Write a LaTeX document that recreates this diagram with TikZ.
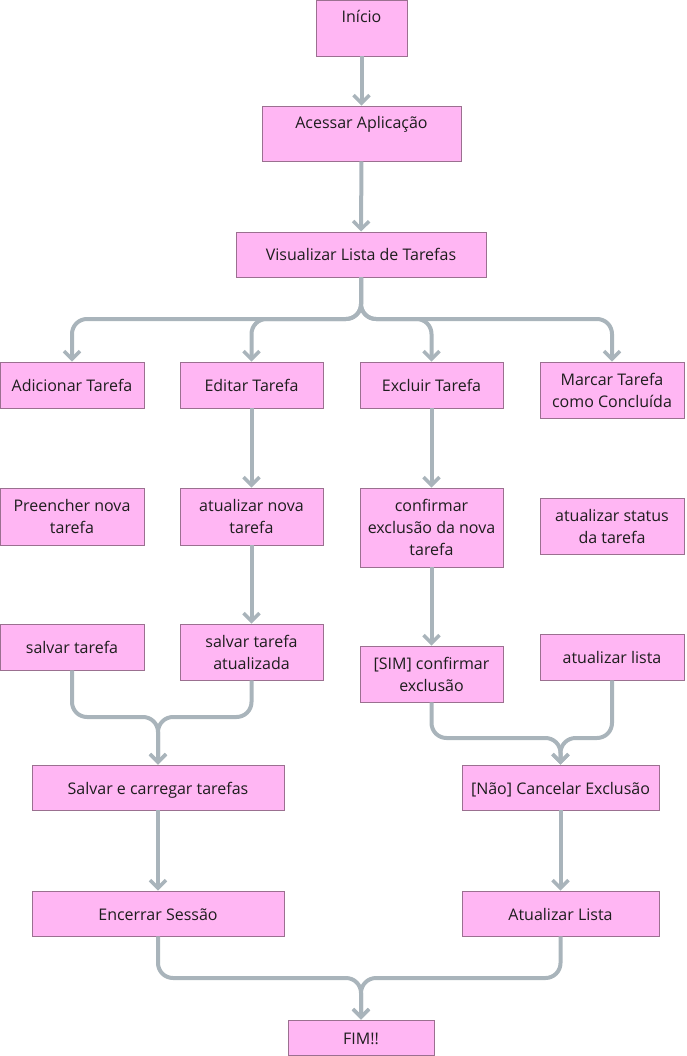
\documentclass[tikz,border=0pt]{standalone}
\usepackage{fontspec}
\setmainfont{Open Sans}
\usetikzlibrary{arrows.meta}
\definecolor{boxfill}{HTML}{FFB6F3}
\definecolor{boxline}{HTML}{9B7090}
\definecolor{arrowc}{HTML}{A9B4BB}
\definecolor{txt}{HTML}{1E1E1E}
\tikzset{
  box/.style={draw=boxline, line width=0.8pt, fill=boxfill, text=txt, align=center,
    inner sep=0pt, font=\fontsize{16pt}{22pt}\selectfont},
  one/.style={text height=13pt, text depth=0pt},
  topline/.style={text height=12pt, text depth=22pt},
  flow/.style={draw=arrowc, line width=4pt, rounded corners=15pt,
    -{Straight Barb[length=8pt,width=16pt,line width=3.5pt]}}
}
\begin{document}
\begin{tikzpicture}[x=1pt,y=-1pt]
\useasboundingbox (0,0) rectangle (686,1056);
\newcommand{\bx}[7][]{\node[box, #1, minimum width=#5pt, minimum height=#6pt] (#2) at (#3,#4) {#7};}
\bx[topline]{inicio}{361.5}{28}{91}{56}{Início}
\bx[topline]{acessar}{361.5}{133.5}{199}{55}{Acessar Aplicação}
\bx[one]{vis}{361}{254.5}{250}{45}{Visualizar Lista de Tarefas}
\bx[one]{adic}{72}{385}{144}{46}{Adicionar Tarefa}
\bx[one]{edit}{251.5}{385}{143}{46}{Editar Tarefa}
\bx[one]{excl}{431.5}{385}{143}{46}{Excluir Tarefa}
\bx{marc}{612}{390}{144}{56}{Marcar Tarefa\\como Concluída}
\bx{pree}{72}{516.5}{144}{57}{Preencher nova\\tarefa}
\bx{atnova}{251.5}{516.5}{143}{57}{atualizar nova\\tarefa}
\bx{conf}{431.5}{527.5}{143}{79}{confirmar\\exclusão da nova\\tarefa}
\bx{stat}{612}{526}{144}{56}{atualizar status\\da tarefa}
\bx[one]{salv}{72}{647}{144}{46}{salvar tarefa}
\bx{salvat}{251.5}{652}{143}{56}{salvar tarefa\\atualizada}
\bx{sim}{431.5}{674}{143}{56}{[SIM] confirmar\\exclusão}
\bx[one]{atlista}{612}{657}{144}{46}{atualizar lista}
\bx[one]{salvcar}{158}{787.5}{252}{45}{Salvar e carregar tarefas}
\bx[one]{nao}{560.5}{787.5}{197}{45}{[Não] Cancelar Exclusão}
\bx[one]{ence}{158}{913.5}{252}{45}{Encerrar Sessão}
\bx[one]{atL}{560.5}{913.5}{197}{45}{Atualizar Lista}
\bx[one]{fim}{361}{1037.5}{146}{35}{FIM!!}

\coordinate (j1) at (361,319);
\coordinate (j2l) at (72,717);
\coordinate (j2r) at (251.5,717);
\coordinate (j3l) at (431.5,738);
\coordinate (j3r) at (612,738);
\coordinate (j4l) at (158,978);
\coordinate (j4r) at (560.5,978);

\draw[flow] (inicio) -- (acessar);
\draw[flow] (acessar) -- (vis);
\draw[flow] (vis.south) -- (j1) -| (adic.north);
\draw[flow] (vis.south) -- (j1) -| (edit.north);
\draw[flow] (vis.south) -- (j1) -| (excl.north);
\draw[flow] (vis.south) -- (j1) -| (marc.north);
\draw[flow] (edit) -- (atnova);
\draw[flow] (atnova) -- (salvat);
\draw[flow] (excl) -- (conf);
\draw[flow] (conf) -- (sim);
\draw[flow] (salv.south) -- (j2l) -| (salvcar.north);
\draw[flow] (salvat.south) -- (j2r) -| (salvcar.north);
\draw[flow] (sim.south) -- (j3l) -| (nao.north);
\draw[flow] (atlista.south) -- (j3r) -| (nao.north);
\draw[flow] (salvcar) -- (ence);
\draw[flow] (nao) -- (atL);
\draw[flow] (ence.south) -- (j4l) -| (fim.north);
\draw[flow] (atL.south) -- (j4r) -| (fim.north);
\end{tikzpicture}
\end{document}
